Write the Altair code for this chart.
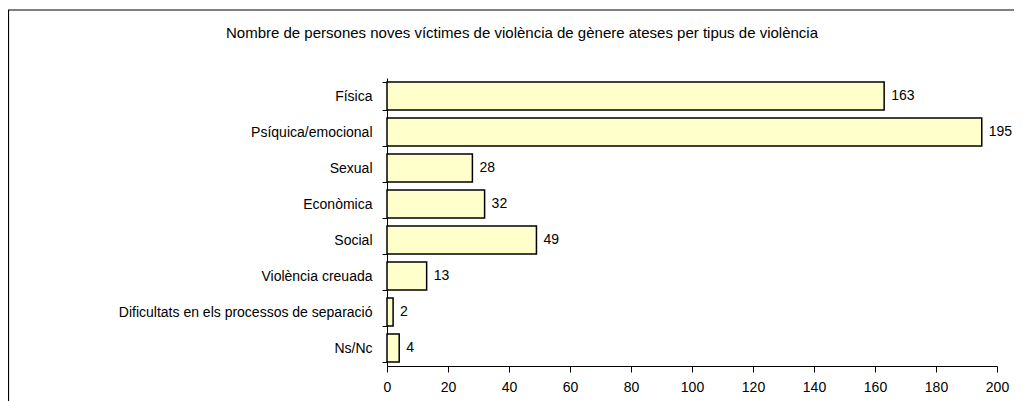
import altair as alt
import pandas as pd

categories = [
    "Física",
    "Psíquica/emocional",
    "Sexual",
    "Econòmica",
    "Social",
    "Violència creuada",
    "Dificultats en els processos de separació",
    "Ns/Nc",
]
values = [163, 195, 28, 32, 49, 13, 2, 4]
x_ticks = list(range(0, 201, 20))
title_text = "Nombre de persones noves víctimes de violència de gènere ateses per tipus de violència"

df = pd.DataFrame({"tipus": categories, "valor": values})
one = pd.DataFrame({"t": [title_text]})

FONT = "Liberation Sans"
W, H = 610, 288

y_enc = alt.Y(
    "tipus:N",
    sort=categories,
    title=None,
    scale=alt.Scale(paddingInner=0.222, paddingOuter=0.111),
    axis=alt.Axis(
        tickBand="extent",
        tickSize=5,
        tickColor="black",
        domainColor="black",
        labelPadding=10,
        labelFont=FONT,
        labelFontSize=14,
        labelColor="black",
        labelLimit=400,
    ),
)
x_enc = alt.X(
    "valor:Q",
    title=None,
    scale=alt.Scale(domain=[0, 200], nice=False),
    axis=alt.Axis(
        values=x_ticks,
        grid=False,
        tickSize=6,
        tickColor="black",
        domainColor="black",
        labelPadding=8,
        labelFont=FONT,
        labelFontSize=14,
        labelColor="black",
        labelFlush=False,
    ),
)

bars = alt.Chart(df).mark_bar(
    fill="#FFFFCC", stroke="black", strokeWidth=1.5
).encode(x=x_enc, y=y_enc)

labels = alt.Chart(df).mark_text(
    align="left", baseline="middle", dx=7, font=FONT, fontSize=14, color="black"
).encode(x="valor:Q", y=alt.Y("tipus:N", sort=categories), text="valor:Q")

frame = alt.Chart(one).mark_rect(
    fill="transparent", stroke="black", strokeWidth=1.2
).encode(
    x=alt.value(-378.5), x2=alt.value(700), y=alt.value(-68), y2=alt.value(500)
)

title = alt.Chart(one).mark_text(
    align="center", baseline="middle", font=FONT, fontSize=15, color="black"
).encode(
    x=alt.value(135), y=alt.value(-45), text="t:N"
)

chart = alt.layer(frame, bars, labels, title).properties(
    width=W,
    height=H,
    padding={"left": 379, "top": 70, "right": 17, "bottom": 35},
    autosize=alt.AutoSizeParams(type="none"),
    background="white",
).configure_view(strokeWidth=0)

chart.save("out.html", embed_options={"renderer": "svg", "actions": False})
